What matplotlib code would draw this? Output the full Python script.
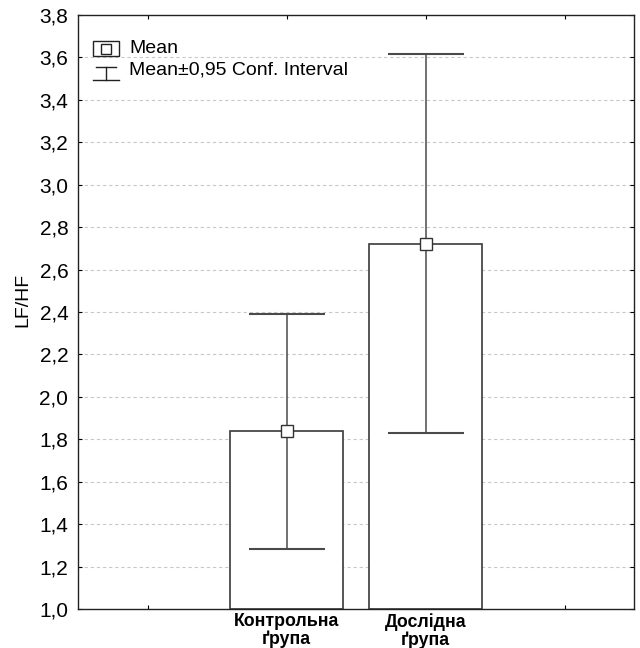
import matplotlib
matplotlib.use("Agg")
import matplotlib.pyplot as plt
from matplotlib.ticker import FuncFormatter
from matplotlib.lines import Line2D
from matplotlib.patches import Rectangle

plt.rcParams['font.family'] = ['Liberation Sans', 'DejaVu Sans']

categories = ["Контрольна\nґрупа", "Дослідна\nґрупа"]
positions = [2, 3]
means = [1.84, 2.72]
ci_low = [1.285, 1.83]
ci_high = [2.39, 3.615]
yticks = [1.0 + 0.2 * i for i in range(15)]

fig = plt.figure(figsize=(6.4, 6.48), dpi=100)
ax = fig.add_axes([0.122, 0.060, 0.869, 0.917])
ax.set_xlim(0.5, 4.5)
ax.set_ylim(1.0, 3.8)

ax.set_yticks(yticks)
ax.yaxis.set_major_formatter(FuncFormatter(lambda v, p: f"{v:.1f}".replace('.', ',')))
ax.set_xticks([1, 2, 3, 4])
ax.set_xticklabels(["", categories[0], categories[1], ""], fontweight='bold', fontsize=12.8,
                   linespacing=1.05)
ax.tick_params(axis='both', direction='in', length=3, top=True, right=True, width=0.8)
ax.tick_params(axis='y', labelsize=15, pad=7)
ax.tick_params(axis='x', pad=3)

for y in yticks[1:-1]:
    ax.axhline(y, color='#c8c8c8', lw=0.8, ls=(0, (3, 2.5)), zorder=0)

bottom = ax.get_ylim()[0]
heights = [m - bottom for m in means]
ax.bar(positions, heights, bottom=bottom, width=0.81, color='white',
       edgecolor='#3a3a3a', linewidth=1.2, zorder=2)

yerr = [[m - l for m, l in zip(means, ci_low)], [h - m for m, h in zip(means, ci_high)]]
ax.errorbar(positions, means, yerr=yerr, fmt='none', ecolor='#4a4a4a',
            elinewidth=1.1, capsize=27.5, capthick=1.5, zorder=3)
ax.plot(positions, means, ls='none', marker='s', markersize=8, markerfacecolor='white',
        markeredgecolor='#333333', markeredgewidth=1.0, zorder=4)

for s in ax.spines.values():
    s.set_linewidth(1.0)
    s.set_color('#222222')

ax.set_ylabel("LF/HF", fontsize=14)
ax.yaxis.set_label_coords(-0.084, 0.52)

# legend drawn in axes fraction
tr = ax.transAxes
ax.add_patch(Rectangle((0.027, 0.930), 0.047, 0.026, transform=tr, facecolor='white',
                       edgecolor='#222222', lw=1.0, zorder=5))
ax.plot([0.0505], [0.943], transform=tr, marker='s', markersize=7, markerfacecolor='white',
        markeredgecolor='#222222', markeredgewidth=1.0, ls='none', zorder=6)
ax.add_line(Line2D([0.032, 0.069], [0.913, 0.913], transform=tr, color='#222222', lw=1.0, zorder=5))
ax.add_line(Line2D([0.0505, 0.0505], [0.913, 0.891], transform=tr, color='#222222', lw=1.0, zorder=5))
ax.add_line(Line2D([0.027, 0.074], [0.891, 0.891], transform=tr, color='#222222', lw=1.0, zorder=5))
ax.text(0.092, 0.943, "Mean", transform=tr, fontsize=14, va='center', ha='left', zorder=6)
ax.text(0.092, 0.907, "Mean±0,95 Conf. Interval", transform=tr, fontsize=14, va='center',
        ha='left', zorder=6)

fig.savefig("out.png", dpi=100)
